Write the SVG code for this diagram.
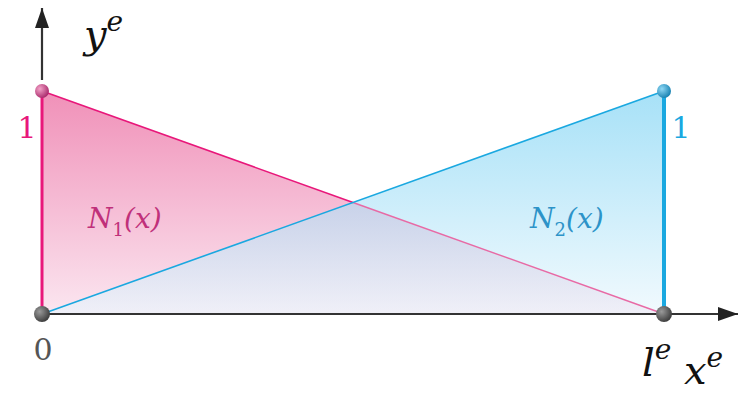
<svg xmlns="http://www.w3.org/2000/svg" width="754" height="394" viewBox="0 0 754 394">
<style>
.math{font-family:"DejaVu Serif","Liberation Serif",serif;font-style:italic;fill:#111}
.num{font-family:"DejaVu Serif","Liberation Serif",serif}
.fn{font-family:"DejaVu Serif","Liberation Serif",serif;font-style:italic;font-size:28px}
.axis{stroke:#333;stroke-width:2.2;fill:none}
</style>
<defs>
<linearGradient id="gPink" x1="0" y1="91" x2="0" y2="314" gradientUnits="userSpaceOnUse">
<stop offset="0" stop-color="#f090b8"/>
<stop offset="1" stop-color="#fbe6f0"/>
</linearGradient>
<linearGradient id="gBlue" x1="0" y1="91" x2="0" y2="314" gradientUnits="userSpaceOnUse">
<stop offset="0" stop-color="#6ccdf2"/>
<stop offset="1" stop-color="#e8f6fd"/>
</linearGradient>
<radialGradient id="dPink" cx="0.35" cy="0.35" r="0.7">
<stop offset="0" stop-color="#f3a3c8"/><stop offset="1" stop-color="#a8286a"/>
</radialGradient>
<radialGradient id="dBlue" cx="0.35" cy="0.35" r="0.7">
<stop offset="0" stop-color="#8fd8f5"/><stop offset="1" stop-color="#1580b0"/>
</radialGradient>
<radialGradient id="dGrey" cx="0.35" cy="0.35" r="0.7">
<stop offset="0" stop-color="#9a9a9a"/><stop offset="1" stop-color="#3a3a3a"/>
</radialGradient>
<marker id="arr" viewBox="0 0 20 14" refX="20" refY="7" markerWidth="20" markerHeight="14" markerUnits="userSpaceOnUse" orient="auto">
<path d="M0,0 L20,7 L0,14 z" fill="#222"/>
</marker>
</defs>
<g id="shapeN1">
<polygon points="42,91 42,314 664,314" fill="url(#gPink)"/>
</g>
<g id="shapeN2">
<polygon points="42,314 664,91 664,314" fill="url(#gBlue)" fill-opacity="0.6"/>
</g>
<g id="connectors">
<line x1="42" y1="91" x2="353" y2="202.5" stroke="#e8177a" stroke-width="1.6"/>
<line x1="353" y1="202.5" x2="664" y2="314" stroke="#e86aa5" stroke-width="1.4"/>
<line x1="42" y1="314" x2="664" y2="91" stroke="#1aa8e0" stroke-width="1.6"/>
<line x1="42" y1="91" x2="42" y2="314" stroke="#e8177a" stroke-width="3"/>
<line x1="664" y1="91" x2="664" y2="314" stroke="#1aa8e0" stroke-width="4"/>
<path class="axis" d="M42,80 L42,8" marker-end="url(#arr)"/>
<path class="axis" d="M42,314 L738,314" marker-end="url(#arr)"/>
</g>
<g id="pointTop"><circle cx="42" cy="91" r="7" fill="url(#dPink)"/></g>
<g id="pointRight"><circle cx="664" cy="91" r="7" fill="url(#dBlue)"/></g>
<g id="pointOrigin"><circle cx="42" cy="314" r="8" fill="url(#dGrey)"/></g>
<g id="pointEnd"><circle cx="664" cy="314" r="8" fill="url(#dGrey)"/></g>
<g id="labels">
<text class="num" x="27" y="138" font-size="30" fill="#e8177a" text-anchor="middle">1</text>
<text class="num" x="681" y="138" font-size="30" fill="#1aa8e0" text-anchor="middle">1</text>
<text class="num" x="43" y="360" font-size="30" fill="#555" text-anchor="middle">0</text>
<text class="math" x="84" y="48" font-size="40">y<tspan font-size="28" dy="-17">e</tspan></text>
<text class="math" x="642" y="376" font-size="40">l<tspan font-size="28" dy="-17">e</tspan></text>
<text class="math" x="684" y="384" font-size="40">x<tspan font-size="28" dy="-17">e</tspan></text>
<text class="fn" x="88" y="228" fill="#c0307a">N<tspan font-style="normal" font-size="18" dy="8">1</tspan><tspan dy="-8">(x)</tspan></text>
<text class="fn" x="530" y="228" fill="#2c93c8">N<tspan font-style="normal" font-size="18" dy="8">2</tspan><tspan dy="-8">(x)</tspan></text>
</g>
</svg>
